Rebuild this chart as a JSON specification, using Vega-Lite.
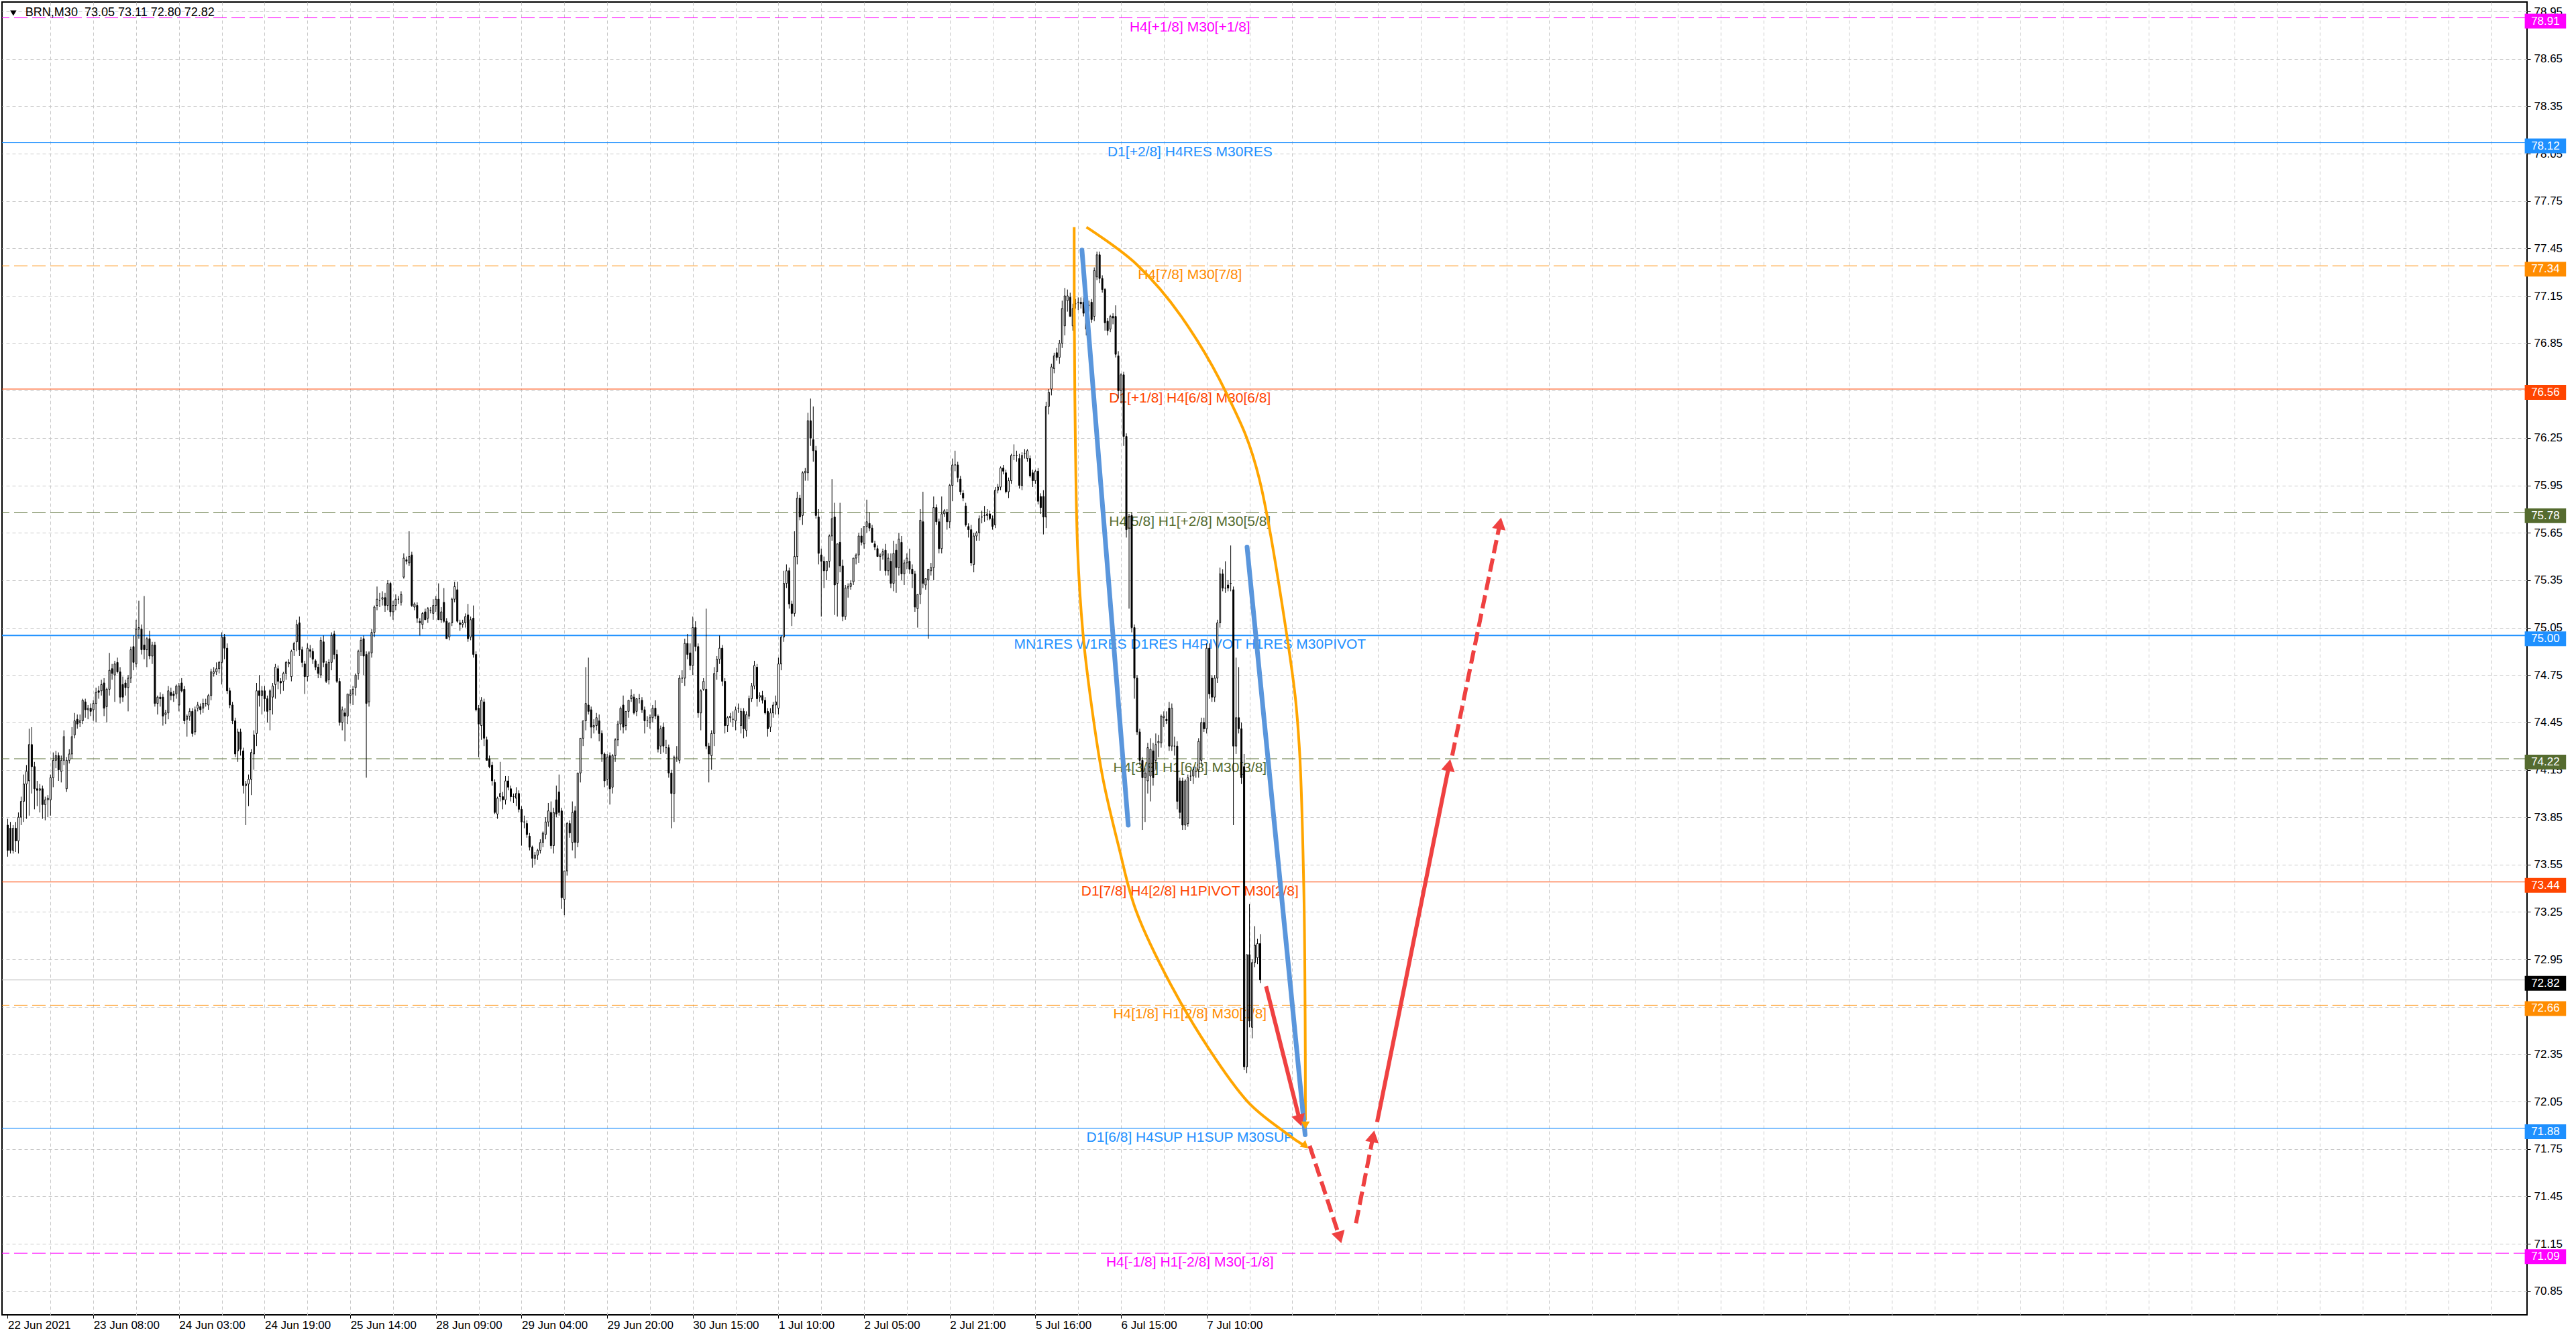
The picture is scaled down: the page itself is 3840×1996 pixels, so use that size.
{
  "$schema": "https://vega.github.io/schema/vega-lite/v6.json",
  "width": 3764,
  "height": 1957,
  "autosize": {"type": "none"},
  "padding": {"left": 3, "top": 3, "right": 73, "bottom": 36},
  "background": "#FFFFFF",
  "config": {
    "view": {"stroke": "#000000", "strokeWidth": 2},
    "font": "Liberation Sans",
    "axis": {"labelFont": "Liberation Sans"}
  },
  "layer": [
    {
      "data": {
        "values": [
          {"p": 78.91, "grp": "outer", "lab": "H4[+1/8] M30[+1/8]"},
          {"p": 78.12, "grp": "major", "lab": "D1[+2/8] H4RES M30RES"},
          {"p": 77.34, "grp": "weak", "lab": "H4[7/8] M30[7/8]"},
          {"p": 76.56, "grp": "pivot", "lab": "D1[+1/8] H4[6/8] M30[6/8]"},
          {"p": 75.78, "grp": "mid", "lab": "H4[5/8] H1[+2/8] M30[5/8]"},
          {"p": 75.00, "grp": "major", "lab": "MN1RES W1RES D1RES H4PIVOT H1RES M30PIVOT"},
          {"p": 74.22, "grp": "mid", "lab": "H4[3/8] H1[6/8] M30[3/8]"},
          {"p": 73.44, "grp": "pivot", "lab": "D1[7/8] H4[2/8] H1PIVOT M30[2/8]"},
          {"p": 72.82, "grp": "bid", "lab": ""},
          {"p": 72.66, "grp": "weak", "lab": "H4[1/8] H1[2/8] M30[1/8]"},
          {"p": 71.88, "grp": "major", "lab": "D1[6/8] H4SUP H1SUP M30SUP"},
          {"p": 71.09, "grp": "outer", "lab": "H4[-1/8] H1[-2/8] M30[-1/8]"}
        ]
      },
      "layer": [
        {
          "mark": {"type": "rule"},
          "encoding": {
            "y": {
              "field": "p", "type": "quantitative",
              "scale": {"domain": [70.70, 79.01], "nice": false, "zero": false},
              "axis": {"title": null, "orient": "right", "values": [70.85, 71.15, 71.45, 71.75, 72.05, 72.35, 72.65, 72.95, 73.25, 73.55, 73.85, 74.15, 74.45, 74.75, 75.05, 75.35, 75.65, 75.95, 76.25, 76.55, 76.85, 77.15, 77.45, 77.75, 78.05, 78.35, 78.65, 78.95], "format": ".2f", "labelFontSize": 17, "labelColor": "#000000", "labelPadding": 5, "labelAlign": "left", "labelBaseline": "middle", "labelOverlap": false, "labelBound": false, "labelFlush": false, "domain": false, "tickSize": 5, "tickColor": "#000000", "grid": true, "gridColor": "#C8C8C8", "gridDash": [5, 4]}
            },
            "stroke": {
              "field": "grp", "type": "nominal", "legend": null,
              "scale": {"domain": ["outer", "major", "weak", "pivot", "mid", "bid"], "range": ["#FF00FF", "#1E90FF", "#FF8C00", "#FF4500", "#556B2F", "#C0C0C0"]}
            },
            "strokeDash": {
              "field": "grp", "type": "nominal", "legend": null,
              "scale": {"domain": ["outer", "major", "weak", "pivot", "mid", "bid"], "range": [[20, 7], [1, 0], [20, 7], [1, 0], [20, 7], [1, 0]]}
            },
            "strokeWidth": {"condition": {"test": "datum.p === 75", "value": 2}, "value": 1}
          }
        },
        {
          "transform": [{"filter": "datum.lab !== ''"}],
          "mark": {"type": "text", "align": "center", "baseline": "top", "dy": 3, "fontSize": 21},
          "encoding": {
            "x": {
              "datum": 441.75, "type": "quantitative",
              "scale": {"domain": [-0.875, 940.125], "nice": false, "zero": false},
              "axis": {"title": null, "orient": "bottom", "values": [0, 16, 32, 48, 64, 80, 96, 112, 128, 144, 160, 176, 192, 208, 224, 240, 256, 272, 288, 304, 320, 336, 352, 368, 384, 400, 416, 432, 448, 464, 480, 496, 512, 528, 544, 560, 576, 592, 608, 624, 640, 656, 672, 688, 704, 720, 736, 752, 768, 784, 800, 816, 832, 848, 864, 880, 896, 912, 928], "labelExpr": "datum.value % 32 === 0 && datum.value <= 448 ? ['22 Jun 2021','23 Jun 08:00','24 Jun 03:00','24 Jun 19:00','25 Jun 14:00','28 Jun 09:00','29 Jun 04:00','29 Jun 20:00','30 Jun 15:00','1 Jul 10:00','2 Jul 05:00','2 Jul 21:00','5 Jul 16:00','6 Jul 15:00','7 Jul 10:00'][datum.value / 32] : ''", "labelAlign": "left", "labelBaseline": "top", "labelFontSize": 17, "labelColor": "#000000", "labelPadding": 2, "labelFlush": false, "labelOverlap": false, "labelBound": false, "domain": false, "tickSize": 5, "tickColor": "#000000", "tickOpacity": {"condition": {"test": "datum.value % 32 === 0 && datum.value <= 448", "value": 1}, "value": 0}, "grid": true, "gridColor": "#C8C8C8", "gridDash": [5, 4], "gridOpacity": {"condition": {"test": "datum.value === 0", "value": 0}, "value": 1}}
            },
            "y": {
              "field": "p", "type": "quantitative",
              "scale": {"domain": [70.70, 79.01], "nice": false, "zero": false},
              "axis": {"title": null, "orient": "right", "values": [70.85, 71.15, 71.45, 71.75, 72.05, 72.35, 72.65, 72.95, 73.25, 73.55, 73.85, 74.15, 74.45, 74.75, 75.05, 75.35, 75.65, 75.95, 76.25, 76.55, 76.85, 77.15, 77.45, 77.75, 78.05, 78.35, 78.65, 78.95], "format": ".2f", "labelFontSize": 17, "labelColor": "#000000", "labelPadding": 5, "labelAlign": "left", "labelBaseline": "middle", "labelOverlap": false, "labelBound": false, "labelFlush": false, "domain": false, "tickSize": 5, "tickColor": "#000000", "grid": true, "gridColor": "#C8C8C8", "gridDash": [5, 4]}
            },
            "text": {"field": "lab"},
            "fill": {
              "field": "grp", "type": "nominal", "legend": null,
              "scale": {"domain": ["outer", "major", "weak", "pivot", "mid", "bid"], "range": ["#FF00FF", "#1E90FF", "#FF8C00", "#FF4500", "#556B2F", "#000000"]}
            }
          }
        },
        {
          "mark": {"type": "point", "shape": "M-2.8,-1H2.8V1H-2.8Z", "size": 484, "filled": true, "opacity": 1, "strokeWidth": 0, "yOffset": 5},
          "encoding": {
            "x": {
              "datum": 948.25, "type": "quantitative",
              "scale": {"domain": [-0.875, 940.125], "nice": false, "zero": false},
              "axis": {"title": null, "orient": "bottom", "values": [0, 16, 32, 48, 64, 80, 96, 112, 128, 144, 160, 176, 192, 208, 224, 240, 256, 272, 288, 304, 320, 336, 352, 368, 384, 400, 416, 432, 448, 464, 480, 496, 512, 528, 544, 560, 576, 592, 608, 624, 640, 656, 672, 688, 704, 720, 736, 752, 768, 784, 800, 816, 832, 848, 864, 880, 896, 912, 928], "labelExpr": "datum.value % 32 === 0 && datum.value <= 448 ? ['22 Jun 2021','23 Jun 08:00','24 Jun 03:00','24 Jun 19:00','25 Jun 14:00','28 Jun 09:00','29 Jun 04:00','29 Jun 20:00','30 Jun 15:00','1 Jul 10:00','2 Jul 05:00','2 Jul 21:00','5 Jul 16:00','6 Jul 15:00','7 Jul 10:00'][datum.value / 32] : ''", "labelAlign": "left", "labelBaseline": "top", "labelFontSize": 17, "labelColor": "#000000", "labelPadding": 2, "labelFlush": false, "labelOverlap": false, "labelBound": false, "domain": false, "tickSize": 5, "tickColor": "#000000", "tickOpacity": {"condition": {"test": "datum.value % 32 === 0 && datum.value <= 448", "value": 1}, "value": 0}, "grid": true, "gridColor": "#C8C8C8", "gridDash": [5, 4], "gridOpacity": {"condition": {"test": "datum.value === 0", "value": 0}, "value": 1}}
            },
            "y": {
              "field": "p", "type": "quantitative",
              "scale": {"domain": [70.70, 79.01], "nice": false, "zero": false},
              "axis": {"title": null, "orient": "right", "values": [70.85, 71.15, 71.45, 71.75, 72.05, 72.35, 72.65, 72.95, 73.25, 73.55, 73.85, 74.15, 74.45, 74.75, 75.05, 75.35, 75.65, 75.95, 76.25, 76.55, 76.85, 77.15, 77.45, 77.75, 78.05, 78.35, 78.65, 78.95], "format": ".2f", "labelFontSize": 17, "labelColor": "#000000", "labelPadding": 5, "labelAlign": "left", "labelBaseline": "middle", "labelOverlap": false, "labelBound": false, "labelFlush": false, "domain": false, "tickSize": 5, "tickColor": "#000000", "grid": true, "gridColor": "#C8C8C8", "gridDash": [5, 4]}
            },
            "fill": {
              "field": "grp", "type": "nominal", "legend": null,
              "scale": {"domain": ["outer", "major", "weak", "pivot", "mid", "bid"], "range": ["#FF00FF", "#1E90FF", "#FF8C00", "#FF4500", "#556B2F", "#000000"]}
            }
          }
        },
        {
          "mark": {"type": "text", "align": "center", "baseline": "middle", "fontSize": 17, "color": "#FFFFFF", "yOffset": 5},
          "encoding": {
            "x": {
              "datum": 948.25, "type": "quantitative",
              "scale": {"domain": [-0.875, 940.125], "nice": false, "zero": false},
              "axis": {"title": null, "orient": "bottom", "values": [0, 16, 32, 48, 64, 80, 96, 112, 128, 144, 160, 176, 192, 208, 224, 240, 256, 272, 288, 304, 320, 336, 352, 368, 384, 400, 416, 432, 448, 464, 480, 496, 512, 528, 544, 560, 576, 592, 608, 624, 640, 656, 672, 688, 704, 720, 736, 752, 768, 784, 800, 816, 832, 848, 864, 880, 896, 912, 928], "labelExpr": "datum.value % 32 === 0 && datum.value <= 448 ? ['22 Jun 2021','23 Jun 08:00','24 Jun 03:00','24 Jun 19:00','25 Jun 14:00','28 Jun 09:00','29 Jun 04:00','29 Jun 20:00','30 Jun 15:00','1 Jul 10:00','2 Jul 05:00','2 Jul 21:00','5 Jul 16:00','6 Jul 15:00','7 Jul 10:00'][datum.value / 32] : ''", "labelAlign": "left", "labelBaseline": "top", "labelFontSize": 17, "labelColor": "#000000", "labelPadding": 2, "labelFlush": false, "labelOverlap": false, "labelBound": false, "domain": false, "tickSize": 5, "tickColor": "#000000", "tickOpacity": {"condition": {"test": "datum.value % 32 === 0 && datum.value <= 448", "value": 1}, "value": 0}, "grid": true, "gridColor": "#C8C8C8", "gridDash": [5, 4], "gridOpacity": {"condition": {"test": "datum.value === 0", "value": 0}, "value": 1}}
            },
            "y": {
              "field": "p", "type": "quantitative",
              "scale": {"domain": [70.70, 79.01], "nice": false, "zero": false},
              "axis": {"title": null, "orient": "right", "values": [70.85, 71.15, 71.45, 71.75, 72.05, 72.35, 72.65, 72.95, 73.25, 73.55, 73.85, 74.15, 74.45, 74.75, 75.05, 75.35, 75.65, 75.95, 76.25, 76.55, 76.85, 77.15, 77.45, 77.75, 78.05, 78.35, 78.65, 78.95], "format": ".2f", "labelFontSize": 17, "labelColor": "#000000", "labelPadding": 5, "labelAlign": "left", "labelBaseline": "middle", "labelOverlap": false, "labelBound": false, "labelFlush": false, "domain": false, "tickSize": 5, "tickColor": "#000000", "grid": true, "gridColor": "#C8C8C8", "gridDash": [5, 4]}
            },
            "text": {"field": "p", "type": "quantitative", "format": ".2f"}
          }
        }
      ]
    },
    {
      "data": {
        "values": "i,o,h,l,c\n0,73.80,73.84,73.60,73.64\n1,73.78,73.82,73.62,73.64\n2,73.64,73.80,73.62,73.78\n3,73.78,73.82,73.63,73.70\n4,73.70,73.88,73.62,73.85\n5,73.85,73.98,73.80,73.95\n6,73.95,74.12,73.82,74.06\n7,74.06,74.18,73.84,74.14\n8,74.08,74.41,73.86,74.31\n9,74.31,74.42,74.00,74.17\n10,74.17,74.20,73.90,74.03\n11,74.03,74.08,73.92,74.02\n12,74.02,74.06,73.88,74.03\n13,74.03,74.05,73.84,73.93\n14,73.93,73.98,73.83,73.96\n15,73.96,73.99,73.85,73.97\n16,73.96,74.12,73.86,74.10\n17,74.10,74.26,74.04,74.21\n18,74.21,74.27,74.16,74.24\n19,74.24,74.26,74.08,74.15\n20,74.14,74.24,74.07,74.21\n21,74.21,74.40,74.18,74.36\n22,74.03,74.23,74.01,74.21\n23,74.21,74.28,74.19,74.25\n24,74.25,74.42,74.22,74.36\n25,74.37,74.51,74.35,74.46\n26,74.47,74.50,74.41,74.44\n27,74.45,74.50,74.42,74.46\n28,74.46,74.60,74.44,74.59\n29,74.58,74.60,74.48,74.53\n30,74.53,74.56,74.47,74.54\n31,74.54,74.57,74.49,74.52\n32,74.53,74.59,74.46,74.57\n33,74.57,74.67,74.45,74.64\n34,74.65,74.68,74.60,74.64\n35,74.65,74.72,74.62,74.69\n36,74.70,74.73,74.49,74.54\n37,74.55,74.67,74.45,74.66\n38,74.66,74.89,74.62,74.78\n39,74.79,74.82,74.72,74.76\n40,74.75,74.84,74.58,74.82\n41,74.83,74.86,74.76,74.77\n42,74.77,74.80,74.57,74.61\n43,74.69,74.74,74.58,74.61\n44,74.70,74.72,74.62,74.67\n45,74.67,74.75,74.52,74.73\n46,74.73,74.93,74.70,74.91\n47,74.93,75.00,74.78,74.83\n48,74.82,75.10,74.80,75.04\n49,75.04,75.22,74.98,75.05\n50,75.04,75.07,74.88,74.91\n51,74.94,75.25,74.85,74.91\n52,74.91,74.99,74.80,74.98\n53,74.98,75.03,74.85,74.87\n54,74.87,74.96,74.82,74.94\n55,74.94,74.96,74.55,74.57\n56,74.57,74.62,74.50,74.61\n57,74.61,74.64,74.55,74.60\n58,74.61,74.63,74.43,74.49\n59,74.50,74.53,74.44,74.51\n60,74.51,74.68,74.47,74.65\n61,74.64,74.67,74.59,74.62\n62,74.63,74.65,74.58,74.62\n63,74.63,74.69,74.60,74.68\n64,74.56,74.70,74.52,74.68\n65,74.70,74.73,74.64,74.65\n66,74.66,74.68,74.44,74.46\n67,74.47,74.50,74.36,74.49\n68,74.49,74.54,74.46,74.52\n69,74.52,74.54,74.36,74.38\n70,74.39,74.55,74.37,74.53\n71,74.54,74.58,74.52,74.56\n72,74.55,74.57,74.50,74.53\n73,74.54,74.60,74.51,74.57\n74,74.57,74.60,74.55,74.57\n75,74.56,74.63,74.53,74.62\n76,74.62,74.79,74.59,74.77\n77,74.76,74.80,74.74,74.77\n78,74.77,74.83,74.75,74.79\n79,74.79,74.84,74.76,74.83\n80,74.83,75.02,74.69,74.99\n81,74.99,75.01,74.85,74.92\n82,74.92,74.95,74.63,74.65\n83,74.65,74.67,74.54,74.56\n84,74.56,74.58,74.44,74.46\n85,74.46,74.48,74.23,74.25\n86,74.27,74.41,74.20,74.39\n87,74.39,74.41,74.24,74.28\n88,74.27,74.29,74.00,74.05\n89,74.05,74.08,73.80,74.06\n90,74.06,74.12,73.92,74.09\n91,74.09,74.28,73.99,74.26\n92,74.25,74.40,74.15,74.37\n93,74.38,74.70,74.30,74.65\n94,74.65,74.75,74.55,74.62\n95,74.62,74.68,74.50,74.65\n96,74.65,74.68,74.52,74.60\n97,74.60,74.62,74.45,74.52\n98,74.53,74.66,74.40,74.65\n99,74.61,74.70,74.50,74.68\n100,74.69,74.82,74.60,74.80\n101,74.79,74.81,74.66,74.71\n102,74.71,74.73,74.63,74.70\n103,74.71,74.77,74.65,74.76\n104,74.76,74.84,74.72,74.83\n105,74.82,74.85,74.80,74.83\n106,74.74,74.91,74.71,74.90\n107,74.91,74.96,74.87,74.95\n108,74.96,75.10,74.90,75.07\n109,75.08,75.12,74.87,74.91\n110,74.91,74.93,74.80,74.83\n111,74.82,74.84,74.63,74.74\n112,74.74,74.95,74.71,74.92\n113,74.91,74.94,74.86,74.90\n114,74.90,74.92,74.82,74.85\n115,74.84,74.85,74.78,74.80\n116,74.80,74.82,74.73,74.76\n117,74.75,74.99,74.73,74.97\n118,74.96,75.00,74.80,74.83\n119,74.82,74.84,74.70,74.71\n120,74.72,74.85,74.69,74.83\n121,74.83,75.02,74.78,75.00\n122,75.01,75.03,74.85,74.88\n123,74.88,74.91,74.70,74.71\n124,74.71,74.73,74.43,74.45\n125,74.45,74.55,74.40,74.53\n126,74.51,74.54,74.33,74.49\n127,74.49,74.63,74.44,74.63\n128,74.62,74.66,74.57,74.63\n129,74.63,74.68,74.56,74.66\n130,74.67,74.76,74.62,74.75\n131,74.76,74.91,74.72,74.90\n132,74.90,74.99,74.87,74.97\n133,74.98,75.00,74.75,74.87\n134,74.88,74.90,74.10,74.57\n135,74.58,74.90,74.55,74.89\n136,74.89,75.04,74.86,75.02\n137,75.02,75.19,74.99,75.18\n138,75.19,75.31,75.16,75.23\n139,75.22,75.27,75.18,75.22\n140,75.23,75.28,75.19,75.24\n141,75.24,75.27,75.15,75.19\n142,75.19,75.35,75.16,75.33\n143,75.33,75.34,75.12,75.15\n144,75.15,75.22,75.10,75.19\n145,75.19,75.26,75.16,75.23\n146,75.23,75.25,75.20,75.23\n147,75.21,75.28,75.19,75.26\n148,75.37,75.52,75.36,75.49\n149,75.48,75.50,75.45,75.47\n150,75.46,75.66,75.44,75.50\n151,75.51,75.53,75.18,75.19\n152,75.18,75.21,75.16,75.20\n153,75.19,75.21,75.08,75.11\n154,75.09,75.11,75.00,75.08\n155,75.07,75.15,75.04,75.14\n156,75.15,75.17,75.10,75.10\n157,75.11,75.18,75.08,75.17\n158,75.16,75.18,75.14,75.16\n159,75.14,75.23,75.10,75.19\n160,75.19,75.25,75.15,75.23\n161,75.23,75.33,75.10,75.10\n162,75.10,75.18,75.08,75.15\n163,75.21,75.30,75.08,75.09\n164,75.09,75.11,74.98,74.98\n165,74.99,75.08,74.97,75.08\n166,75.08,75.24,75.06,75.23\n167,75.23,75.34,75.21,75.31\n168,75.29,75.34,75.08,75.09\n169,75.08,75.10,75.03,75.07\n170,75.07,75.10,75.05,75.08\n171,75.08,75.14,75.05,75.12\n172,75.13,75.20,74.96,74.98\n173,74.99,75.12,74.97,75.10\n174,75.11,75.19,74.86,74.88\n175,74.88,74.90,74.52,74.53\n176,74.54,74.56,74.23,74.44\n177,74.43,74.61,74.34,74.59\n178,74.58,74.60,74.30,74.35\n179,74.34,74.36,74.21,74.21\n180,74.22,74.24,74.16,74.17\n181,74.18,74.20,74.05,74.08\n182,74.07,74.09,73.87,73.88\n183,73.87,73.98,73.84,73.97\n184,73.98,74.20,73.95,74.00\n185,73.98,74.01,73.90,73.96\n186,73.96,74.11,73.93,74.08\n187,74.08,74.11,74.02,74.04\n188,74.03,74.05,73.95,73.98\n189,73.98,74.00,73.94,73.98\n190,73.97,74.04,73.92,74.00\n191,74.00,74.02,73.88,73.90\n192,73.90,73.92,73.67,73.82\n193,73.82,73.86,73.78,73.82\n194,73.81,73.83,73.72,73.74\n195,73.73,73.75,73.64,73.66\n196,73.66,73.67,73.53,73.59\n197,73.59,73.63,73.55,73.61\n198,73.61,73.65,73.58,73.64\n199,73.64,73.71,73.62,73.69\n200,73.69,73.76,73.66,73.75\n201,73.74,73.85,73.71,73.82\n202,73.82,73.94,73.79,73.89\n203,73.88,73.95,73.65,73.67\n204,73.67,73.91,73.62,73.88\n205,73.96,74.05,73.85,73.87\n206,74.01,74.12,73.86,73.88\n207,73.89,73.91,73.27,73.34\n208,73.33,73.51,73.23,73.51\n209,73.51,73.82,73.48,73.81\n210,73.81,73.83,73.72,73.75\n211,73.69,73.95,73.64,73.88\n212,73.89,73.92,73.59,73.69\n213,73.69,74.13,73.66,74.13\n214,74.13,74.35,74.07,74.35\n215,74.35,74.46,74.30,74.46\n216,74.46,74.80,74.40,74.57\n217,74.56,74.86,74.50,74.52\n218,74.53,74.55,74.35,74.42\n219,74.42,74.47,74.38,74.43\n220,74.43,74.51,74.40,74.48\n221,74.46,74.50,74.33,74.38\n222,74.38,74.40,74.20,74.25\n223,74.25,74.26,74.04,74.08\n224,74.09,74.25,74.05,74.23\n225,74.24,74.26,73.93,74.03\n226,74.04,74.25,74.00,74.24\n227,74.24,74.35,74.20,74.34\n228,74.34,74.46,74.30,74.44\n229,74.44,74.55,74.40,74.54\n230,74.56,74.62,74.38,74.42\n231,74.43,74.52,74.40,74.52\n232,74.52,74.59,74.48,74.59\n233,74.60,74.66,74.58,74.62\n234,74.61,74.63,74.50,74.51\n235,74.52,74.60,74.49,74.60\n236,74.60,74.63,74.57,74.60\n237,74.59,74.61,74.51,74.53\n238,74.53,74.55,74.38,74.46\n239,74.46,74.49,74.42,74.46\n240,74.45,74.50,74.41,74.48\n241,74.48,74.56,74.45,74.54\n242,74.54,74.59,74.47,74.49\n243,74.49,74.50,74.26,74.28\n244,74.30,74.43,74.25,74.41\n245,74.42,74.45,74.26,74.30\n246,74.29,74.34,74.25,74.29\n247,74.29,74.31,74.10,74.13\n248,74.13,74.15,73.78,74.00\n249,74.00,74.24,73.82,74.23\n250,74.23,74.30,74.20,74.23\n251,74.21,74.75,74.19,74.73\n252,74.73,74.78,74.70,74.73\n253,74.73,74.98,74.68,74.95\n254,74.95,75.01,74.85,74.88\n255,74.89,74.95,74.78,74.81\n256,74.81,75.12,74.75,75.05\n257,75.05,75.09,74.90,74.93\n258,74.93,74.95,74.48,74.51\n259,74.51,74.66,74.40,74.65\n260,74.66,74.73,74.65,74.71\n261,74.66,75.17,74.28,74.30\n262,74.30,74.32,74.07,74.25\n263,74.24,74.40,74.15,74.38\n264,74.38,74.80,74.30,74.76\n265,74.77,74.87,74.72,74.85\n266,74.85,75.00,74.82,74.92\n267,74.92,74.94,74.68,74.71\n268,74.71,74.73,74.38,74.43\n269,74.43,74.49,74.39,74.48\n270,74.48,74.51,74.45,74.49\n271,74.47,74.52,74.42,74.47\n272,74.46,74.55,74.40,74.53\n273,74.54,74.57,74.51,74.54\n274,74.43,74.54,74.38,74.52\n275,74.52,74.54,74.35,74.41\n276,74.40,74.52,74.36,74.50\n277,74.49,74.62,74.47,74.60\n278,74.60,74.70,74.58,74.68\n279,74.68,74.84,74.66,74.81\n280,74.80,74.82,74.55,74.60\n281,74.61,74.64,74.58,74.62\n282,74.62,74.65,74.57,74.59\n283,74.59,74.61,74.50,74.51\n284,74.52,74.54,74.36,74.41\n285,74.42,74.54,74.39,74.51\n286,74.51,74.58,74.48,74.56\n287,74.56,74.62,74.50,74.58\n288,74.54,74.86,74.50,74.82\n289,74.82,75.00,74.78,74.99\n290,74.99,75.41,74.96,75.33\n291,75.33,75.45,75.30,75.41\n292,75.41,75.43,75.17,75.20\n293,75.20,75.22,75.06,75.14\n294,75.14,75.66,75.12,75.50\n295,75.50,75.91,75.45,75.87\n296,75.87,75.89,75.73,75.75\n297,75.76,76.04,75.70,76.03\n298,76.03,76.06,75.98,76.04\n299,76.03,76.41,75.98,76.36\n300,76.36,76.50,76.20,76.25\n301,76.24,76.45,76.10,76.17\n302,76.17,76.20,75.74,75.76\n303,75.75,75.80,75.45,75.52\n304,75.51,75.55,75.12,75.47\n305,75.47,75.50,75.30,75.41\n306,75.41,75.47,75.35,75.47\n307,75.47,75.64,75.43,75.63\n308,75.63,75.99,75.60,75.74\n309,75.75,75.84,75.13,75.32\n310,75.33,75.58,75.12,75.58\n311,75.59,75.84,75.40,75.44\n312,75.44,75.48,75.09,75.12\n313,75.12,75.32,75.10,75.30\n314,75.30,75.33,75.24,75.31\n315,75.31,75.35,75.29,75.33\n316,75.34,75.49,75.32,75.49\n317,75.49,75.52,75.45,75.51\n318,75.51,75.65,75.46,75.63\n319,75.63,75.68,75.57,75.59\n320,75.58,75.69,75.55,75.69\n321,75.69,75.86,75.65,75.72\n322,75.71,75.78,75.66,75.68\n323,75.68,75.70,75.59,75.59\n324,75.58,75.60,75.54,75.56\n325,75.55,75.57,75.50,75.50\n326,75.50,75.52,75.41,75.51\n327,75.51,75.55,75.48,75.53\n328,75.54,75.58,75.38,75.41\n329,75.41,75.52,75.38,75.49\n330,75.47,75.52,75.30,75.33\n331,75.33,75.60,75.28,75.52\n332,75.54,75.58,75.27,75.43\n333,75.43,75.65,75.38,75.61\n334,75.59,75.63,75.35,75.39\n335,75.39,75.48,75.32,75.46\n336,75.46,75.52,75.42,75.49\n337,75.47,75.55,75.39,75.42\n338,75.42,75.45,75.30,75.39\n339,75.39,75.41,75.15,75.18\n340,75.17,75.26,75.05,75.26\n341,75.26,75.80,75.20,75.73\n342,75.72,75.91,75.30,75.33\n343,75.32,75.36,75.29,75.36\n344,75.35,75.42,74.98,75.42\n345,75.41,75.46,75.38,75.43\n346,75.43,75.88,75.35,75.81\n347,75.81,75.83,75.70,75.72\n348,75.72,75.74,75.52,75.55\n349,75.55,75.88,75.52,75.77\n350,75.77,75.80,75.75,75.79\n351,75.78,75.80,75.67,75.72\n352,75.72,75.96,75.68,75.95\n353,75.95,76.12,75.85,76.08\n354,76.08,76.17,76.04,76.08\n355,76.08,76.10,75.97,76.00\n356,75.99,76.01,75.89,75.91\n357,75.90,75.92,75.85,75.87\n358,75.82,75.84,75.69,75.70\n359,75.69,75.71,75.62,75.67\n360,75.67,75.70,75.44,75.46\n361,75.45,75.65,75.40,75.63\n362,75.63,75.66,75.60,75.65\n363,75.65,75.76,75.60,75.74\n364,75.75,75.79,75.71,75.75\n365,75.76,75.82,75.72,75.76\n366,75.76,75.80,75.73,75.77\n367,75.77,75.79,75.73,75.74\n368,75.74,75.76,75.67,75.69\n369,75.70,75.94,75.68,75.92\n370,75.92,75.96,75.90,75.94\n371,75.94,76.07,75.92,76.06\n372,76.06,76.08,76.02,76.04\n373,76.03,76.05,75.90,75.91\n374,75.91,76.00,75.87,75.98\n375,75.98,76.15,75.96,76.14\n376,76.14,76.21,76.11,76.14\n377,76.14,76.17,76.10,76.14\n378,76.12,76.15,75.93,75.95\n379,75.95,76.16,75.92,76.14\n380,76.15,76.18,76.12,76.15\n381,76.12,76.18,76.10,76.17\n382,76.12,76.14,76.00,76.01\n383,76.03,76.05,75.94,75.98\n384,75.98,76.05,75.96,76.04\n385,76.04,76.06,75.83,75.85\n386,75.88,75.90,75.77,75.81\n387,75.88,75.92,75.64,75.75\n388,75.75,76.48,75.68,76.45\n389,76.45,76.56,76.40,76.54\n390,76.56,76.72,76.52,76.70\n391,76.69,76.79,76.66,76.77\n392,76.79,76.82,76.74,76.76\n393,76.76,76.87,76.72,76.85\n394,76.85,77.12,76.82,77.07\n395,76.96,77.20,76.90,77.15\n396,77.12,77.19,77.05,77.15\n397,77.14,77.17,77.02,77.02\n398,76.96,77.10,76.93,77.07\n399,77.10,77.13,77.07,77.10\n400,77.11,77.14,77.06,77.11\n401,77.11,77.14,77.07,77.10\n402,77.11,77.14,77.02,77.04\n403,77.11,77.13,76.90,76.94\n404,77.09,77.12,77.05,77.09\n405,77.11,77.13,76.98,77.00\n406,77.02,77.33,76.99,77.31\n407,77.27,77.43,77.25,77.41\n408,77.41,77.43,77.23,77.26\n409,77.26,77.28,77.17,77.19\n410,77.19,77.20,76.93,76.98\n411,76.99,77.01,76.90,76.93\n412,76.94,77.03,76.92,77.02\n413,77.02,77.04,76.97,77.01\n414,77.02,77.09,76.76,76.78\n415,76.77,76.80,76.50,76.55\n416,76.55,76.66,76.47,76.65\n417,76.65,76.67,76.20,76.26\n418,76.26,76.28,75.62,75.67\n419,75.68,75.77,75.17,75.75\n420,75.76,75.78,75.02,75.05\n421,75.05,75.07,74.60,74.73\n422,74.73,74.75,74.37,74.39\n423,74.39,74.41,74.18,74.21\n424,74.21,74.23,73.77,74.10\n425,74.10,74.16,73.82,74.13\n426,74.08,74.32,74.00,74.29\n427,74.11,74.35,73.95,74.28\n428,74.27,74.32,74.05,74.10\n429,74.21,74.38,74.15,74.31\n430,74.32,74.37,74.23,74.33\n431,74.32,74.50,74.29,74.49\n432,74.48,74.52,74.42,74.49\n433,74.47,74.52,74.44,74.46\n434,74.54,74.58,74.27,74.30\n435,74.30,74.57,74.27,74.54\n436,74.30,74.36,74.24,74.30\n437,74.30,74.33,73.90,73.95\n438,74.08,74.10,73.84,73.88\n439,74.08,74.10,73.77,73.80\n440,73.80,74.09,73.77,74.08\n441,73.81,74.12,73.79,74.10\n442,74.11,74.14,74.08,74.11\n443,74.11,74.17,74.06,74.15\n444,74.14,74.17,74.10,74.14\n445,74.15,74.35,74.10,74.33\n446,74.21,74.48,74.18,74.45\n447,74.45,74.48,74.39,74.41\n448,74.41,74.95,74.38,74.92\n449,74.92,74.95,74.60,74.63\n450,74.73,74.75,74.58,74.61\n451,74.61,74.75,74.58,74.73\n452,74.73,75.10,74.70,75.08\n453,75.08,75.43,75.05,75.39\n454,75.39,75.42,75.28,75.30\n455,75.30,75.47,75.27,75.30\n456,75.32,75.35,75.28,75.30\n457,75.33,75.57,75.28,75.33\n458,75.29,75.31,73.80,74.30\n459,74.30,74.86,74.25,74.48\n460,74.48,74.80,74.38,74.41\n461,74.41,74.45,74.06,74.10\n462,74.17,74.25,72.25,72.27\n463,72.27,72.98,72.23,72.98\n464,72.98,73.30,72.52,72.56\n465,72.52,72.95,72.45,72.93\n466,72.93,73.16,72.90,73.04\n467,72.96,73.08,72.92,73.05\n468,73.05,73.11,72.80,72.82",
        "format": {"type": "csv", "parse": {"i": "number", "o": "number", "h": "number", "l": "number", "c": "number"}}
      },
      "layer": [
        {
          "mark": {"type": "rule", "color": "#000000", "strokeWidth": 1},
          "encoding": {
            "x": {
              "field": "i", "type": "quantitative",
              "scale": {"domain": [-0.875, 940.125], "nice": false, "zero": false},
              "axis": {"title": null, "orient": "bottom", "values": [0, 16, 32, 48, 64, 80, 96, 112, 128, 144, 160, 176, 192, 208, 224, 240, 256, 272, 288, 304, 320, 336, 352, 368, 384, 400, 416, 432, 448, 464, 480, 496, 512, 528, 544, 560, 576, 592, 608, 624, 640, 656, 672, 688, 704, 720, 736, 752, 768, 784, 800, 816, 832, 848, 864, 880, 896, 912, 928], "labelExpr": "datum.value % 32 === 0 && datum.value <= 448 ? ['22 Jun 2021','23 Jun 08:00','24 Jun 03:00','24 Jun 19:00','25 Jun 14:00','28 Jun 09:00','29 Jun 04:00','29 Jun 20:00','30 Jun 15:00','1 Jul 10:00','2 Jul 05:00','2 Jul 21:00','5 Jul 16:00','6 Jul 15:00','7 Jul 10:00'][datum.value / 32] : ''", "labelAlign": "left", "labelBaseline": "top", "labelFontSize": 17, "labelColor": "#000000", "labelPadding": 2, "labelFlush": false, "labelOverlap": false, "labelBound": false, "domain": false, "tickSize": 5, "tickColor": "#000000", "tickOpacity": {"condition": {"test": "datum.value % 32 === 0 && datum.value <= 448", "value": 1}, "value": 0}, "grid": true, "gridColor": "#C8C8C8", "gridDash": [5, 4], "gridOpacity": {"condition": {"test": "datum.value === 0", "value": 0}, "value": 1}}
            },
            "y": {
              "field": "l", "type": "quantitative",
              "scale": {"domain": [70.70, 79.01], "nice": false, "zero": false},
              "axis": {"title": null, "orient": "right", "values": [70.85, 71.15, 71.45, 71.75, 72.05, 72.35, 72.65, 72.95, 73.25, 73.55, 73.85, 74.15, 74.45, 74.75, 75.05, 75.35, 75.65, 75.95, 76.25, 76.55, 76.85, 77.15, 77.45, 77.75, 78.05, 78.35, 78.65, 78.95], "format": ".2f", "labelFontSize": 17, "labelColor": "#000000", "labelPadding": 5, "labelAlign": "left", "labelBaseline": "middle", "labelOverlap": false, "labelBound": false, "labelFlush": false, "domain": false, "tickSize": 5, "tickColor": "#000000", "grid": true, "gridColor": "#C8C8C8", "gridDash": [5, 4]}
            },
            "y2": {"field": "h"}
          }
        },
        {
          "mark": {"type": "bar", "size": 2, "stroke": "#000000", "strokeWidth": 1},
          "encoding": {
            "x": {
              "field": "i", "type": "quantitative",
              "scale": {"domain": [-0.875, 940.125], "nice": false, "zero": false},
              "axis": {"title": null, "orient": "bottom", "values": [0, 16, 32, 48, 64, 80, 96, 112, 128, 144, 160, 176, 192, 208, 224, 240, 256, 272, 288, 304, 320, 336, 352, 368, 384, 400, 416, 432, 448, 464, 480, 496, 512, 528, 544, 560, 576, 592, 608, 624, 640, 656, 672, 688, 704, 720, 736, 752, 768, 784, 800, 816, 832, 848, 864, 880, 896, 912, 928], "labelExpr": "datum.value % 32 === 0 && datum.value <= 448 ? ['22 Jun 2021','23 Jun 08:00','24 Jun 03:00','24 Jun 19:00','25 Jun 14:00','28 Jun 09:00','29 Jun 04:00','29 Jun 20:00','30 Jun 15:00','1 Jul 10:00','2 Jul 05:00','2 Jul 21:00','5 Jul 16:00','6 Jul 15:00','7 Jul 10:00'][datum.value / 32] : ''", "labelAlign": "left", "labelBaseline": "top", "labelFontSize": 17, "labelColor": "#000000", "labelPadding": 2, "labelFlush": false, "labelOverlap": false, "labelBound": false, "domain": false, "tickSize": 5, "tickColor": "#000000", "tickOpacity": {"condition": {"test": "datum.value % 32 === 0 && datum.value <= 448", "value": 1}, "value": 0}, "grid": true, "gridColor": "#C8C8C8", "gridDash": [5, 4], "gridOpacity": {"condition": {"test": "datum.value === 0", "value": 0}, "value": 1}}
            },
            "y": {
              "field": "o", "type": "quantitative",
              "scale": {"domain": [70.70, 79.01], "nice": false, "zero": false},
              "axis": {"title": null, "orient": "right", "values": [70.85, 71.15, 71.45, 71.75, 72.05, 72.35, 72.65, 72.95, 73.25, 73.55, 73.85, 74.15, 74.45, 74.75, 75.05, 75.35, 75.65, 75.95, 76.25, 76.55, 76.85, 77.15, 77.45, 77.75, 78.05, 78.35, 78.65, 78.95], "format": ".2f", "labelFontSize": 17, "labelColor": "#000000", "labelPadding": 5, "labelAlign": "left", "labelBaseline": "middle", "labelOverlap": false, "labelBound": false, "labelFlush": false, "domain": false, "tickSize": 5, "tickColor": "#000000", "grid": true, "gridColor": "#C8C8C8", "gridDash": [5, 4]}
            },
            "y2": {"field": "c"},
            "fill": {"condition": {"test": "datum.c < datum.o", "value": "#000000"}, "value": "#FFFFFF"}
          }
        }
      ]
    },
    {
      "data": {
        "values": [
          {"a": "L", "k": 1, "x": 398.5, "y": 77.585},
          {"a": "L", "k": 2, "x": 398.55, "y": 77.02},
          {"a": "L", "k": 3, "x": 398.9, "y": 76.29},
          {"a": "L", "k": 4, "x": 399.75, "y": 75.56},
          {"a": "L", "k": 5, "x": 401.8, "y": 75.01},
          {"a": "L", "k": 6, "x": 405.2, "y": 74.53},
          {"a": "L", "k": 7, "x": 409.3, "y": 74.09},
          {"a": "L", "k": 8, "x": 415.2, "y": 73.66},
          {"a": "L", "k": 9, "x": 421.8, "y": 73.25},
          {"a": "L", "k": 10, "x": 434.6, "y": 72.79},
          {"a": "L", "k": 11, "x": 449.0, "y": 72.38},
          {"a": "L", "k": 12, "x": 463.3, "y": 72.05},
          {"a": "L", "k": 13, "x": 477.7, "y": 71.85},
          {"a": "L", "k": 14, "x": 484.6, "y": 71.77},
          {"a": "R", "k": 1, "x": 403.1, "y": 77.585},
          {"a": "R", "k": 2, "x": 421.8, "y": 77.35},
          {"a": "R", "k": 3, "x": 438.5, "y": 77.02},
          {"a": "R", "k": 4, "x": 455.2, "y": 76.54},
          {"a": "R", "k": 5, "x": 467.7, "y": 75.99},
          {"a": "R", "k": 6, "x": 478.5, "y": 74.94},
          {"a": "R", "k": 7, "x": 482.6, "y": 74.30},
          {"a": "R", "k": 8, "x": 484.3, "y": 73.40},
          {"a": "R", "k": 9, "x": 484.8, "y": 72.60},
          {"a": "R", "k": 10, "x": 484.9, "y": 71.93}
        ]
      },
      "mark": {"type": "line", "color": "#FFA500", "strokeWidth": 4, "interpolate": "cardinal"},
      "encoding": {
        "x": {
          "field": "x", "type": "quantitative",
          "scale": {"domain": [-0.875, 940.125], "nice": false, "zero": false},
          "axis": {"title": null, "orient": "bottom", "values": [0, 16, 32, 48, 64, 80, 96, 112, 128, 144, 160, 176, 192, 208, 224, 240, 256, 272, 288, 304, 320, 336, 352, 368, 384, 400, 416, 432, 448, 464, 480, 496, 512, 528, 544, 560, 576, 592, 608, 624, 640, 656, 672, 688, 704, 720, 736, 752, 768, 784, 800, 816, 832, 848, 864, 880, 896, 912, 928], "labelExpr": "datum.value % 32 === 0 && datum.value <= 448 ? ['22 Jun 2021','23 Jun 08:00','24 Jun 03:00','24 Jun 19:00','25 Jun 14:00','28 Jun 09:00','29 Jun 04:00','29 Jun 20:00','30 Jun 15:00','1 Jul 10:00','2 Jul 05:00','2 Jul 21:00','5 Jul 16:00','6 Jul 15:00','7 Jul 10:00'][datum.value / 32] : ''", "labelAlign": "left", "labelBaseline": "top", "labelFontSize": 17, "labelColor": "#000000", "labelPadding": 2, "labelFlush": false, "labelOverlap": false, "labelBound": false, "domain": false, "tickSize": 5, "tickColor": "#000000", "tickOpacity": {"condition": {"test": "datum.value % 32 === 0 && datum.value <= 448", "value": 1}, "value": 0}, "grid": true, "gridColor": "#C8C8C8", "gridDash": [5, 4], "gridOpacity": {"condition": {"test": "datum.value === 0", "value": 0}, "value": 1}}
        },
        "y": {
          "field": "y", "type": "quantitative",
          "scale": {"domain": [70.70, 79.01], "nice": false, "zero": false},
          "axis": {"title": null, "orient": "right", "values": [70.85, 71.15, 71.45, 71.75, 72.05, 72.35, 72.65, 72.95, 73.25, 73.55, 73.85, 74.15, 74.45, 74.75, 75.05, 75.35, 75.65, 75.95, 76.25, 76.55, 76.85, 77.15, 77.45, 77.75, 78.05, 78.35, 78.65, 78.95], "format": ".2f", "labelFontSize": 17, "labelColor": "#000000", "labelPadding": 5, "labelAlign": "left", "labelBaseline": "middle", "labelOverlap": false, "labelBound": false, "labelFlush": false, "domain": false, "tickSize": 5, "tickColor": "#000000", "grid": true, "gridColor": "#C8C8C8", "gridDash": [5, 4]}
        },
        "detail": {"field": "a"},
        "order": {"field": "k", "type": "quantitative"}
      }
    },
    {
      "data": {
        "values": [
          {"s": "b1", "kind": "blue", "x": 401.4, "y": 77.44, "x2": 418.7, "y2": 73.80},
          {"s": "b2", "kind": "blue", "x": 463.1, "y": 75.56, "x2": 484.8, "y2": 71.84},
          {"s": "r1", "kind": "red", "x": 470.2, "y": 72.78, "x2": 482.8, "y2": 71.93},
          {"s": "r2", "kind": "reddash", "x": 486.5, "y": 71.77, "x2": 497.7, "y2": 71.19},
          {"s": "r3", "kind": "reddash", "x": 503.8, "y": 71.28, "x2": 510.2, "y2": 71.83},
          {"s": "r4", "kind": "red", "x": 511.7, "y": 71.92, "x2": 538.6, "y2": 74.18},
          {"s": "r5", "kind": "reddash", "x": 539.75, "y": 74.24, "x2": 557.6, "y2": 75.71},
          {"s": "o1", "kind": "orangehead", "x": 484.9, "y": 71.90, "x2": 484.9, "y2": 71.90},
          {"s": "o2", "kind": "orangehead2", "x": 484.9, "y": 71.77, "x2": 484.9, "y2": 71.77},
          {"s": "h1", "kind": "headdown", "x": 482.8, "y": 71.93, "x2": 482.8, "y2": 71.93},
          {"s": "h2", "kind": "headdown", "x": 497.7, "y": 71.19, "x2": 497.7, "y2": 71.19},
          {"s": "h3", "kind": "headup", "x": 510.2, "y": 71.83, "x2": 510.2, "y2": 71.83},
          {"s": "h4", "kind": "headup", "x": 538.6, "y": 74.18, "x2": 538.6, "y2": 74.18},
          {"s": "h5", "kind": "headup", "x": 557.6, "y": 75.71, "x2": 557.6, "y2": 75.71}
        ]
      },
      "encoding": {
        "x": {
          "field": "x", "type": "quantitative",
          "scale": {"domain": [-0.875, 940.125], "nice": false, "zero": false},
          "axis": {"title": null, "orient": "bottom", "values": [0, 16, 32, 48, 64, 80, 96, 112, 128, 144, 160, 176, 192, 208, 224, 240, 256, 272, 288, 304, 320, 336, 352, 368, 384, 400, 416, 432, 448, 464, 480, 496, 512, 528, 544, 560, 576, 592, 608, 624, 640, 656, 672, 688, 704, 720, 736, 752, 768, 784, 800, 816, 832, 848, 864, 880, 896, 912, 928], "labelExpr": "datum.value % 32 === 0 && datum.value <= 448 ? ['22 Jun 2021','23 Jun 08:00','24 Jun 03:00','24 Jun 19:00','25 Jun 14:00','28 Jun 09:00','29 Jun 04:00','29 Jun 20:00','30 Jun 15:00','1 Jul 10:00','2 Jul 05:00','2 Jul 21:00','5 Jul 16:00','6 Jul 15:00','7 Jul 10:00'][datum.value / 32] : ''", "labelAlign": "left", "labelBaseline": "top", "labelFontSize": 17, "labelColor": "#000000", "labelPadding": 2, "labelFlush": false, "labelOverlap": false, "labelBound": false, "domain": false, "tickSize": 5, "tickColor": "#000000", "tickOpacity": {"condition": {"test": "datum.value % 32 === 0 && datum.value <= 448", "value": 1}, "value": 0}, "grid": true, "gridColor": "#C8C8C8", "gridDash": [5, 4], "gridOpacity": {"condition": {"test": "datum.value === 0", "value": 0}, "value": 1}}
        },
        "y": {
          "field": "y", "type": "quantitative",
          "scale": {"domain": [70.70, 79.01], "nice": false, "zero": false},
          "axis": {"title": null, "orient": "right", "values": [70.85, 71.15, 71.45, 71.75, 72.05, 72.35, 72.65, 72.95, 73.25, 73.55, 73.85, 74.15, 74.45, 74.75, 75.05, 75.35, 75.65, 75.95, 76.25, 76.55, 76.85, 77.15, 77.45, 77.75, 78.05, 78.35, 78.65, 78.95], "format": ".2f", "labelFontSize": 17, "labelColor": "#000000", "labelPadding": 5, "labelAlign": "left", "labelBaseline": "middle", "labelOverlap": false, "labelBound": false, "labelFlush": false, "domain": false, "tickSize": 5, "tickColor": "#000000", "grid": true, "gridColor": "#C8C8C8", "gridDash": [5, 4]}
        }
      },
      "layer": [
        {
          "transform": [{"filter": "datum.kind === 'blue'"}],
          "mark": {"type": "rule", "color": "#5A96DC", "strokeWidth": 7, "strokeCap": "round"},
          "encoding": {"x2": {"field": "x2"}, "y2": {"field": "y2"}}
        },
        {
          "transform": [{"filter": "datum.kind === 'red'"}],
          "mark": {"type": "rule", "color": "#EF4141", "strokeWidth": 6},
          "encoding": {"x2": {"field": "x2"}, "y2": {"field": "y2"}}
        },
        {
          "transform": [{"filter": "datum.kind === 'reddash'"}],
          "mark": {"type": "rule", "color": "#EF4141", "strokeWidth": 6, "strokeDash": [20, 8]},
          "encoding": {"x2": {"field": "x2"}, "y2": {"field": "y2"}}
        },
        {
          "transform": [{"filter": "datum.kind === 'headdown'"}],
          "mark": {"type": "point", "shape": "triangle-down", "filled": true, "color": "#EF4141", "opacity": 1, "size": 420, "angle": -16}
        },
        {
          "transform": [{"filter": "datum.kind === 'headup'"}],
          "mark": {"type": "point", "shape": "triangle-up", "filled": true, "color": "#EF4141", "opacity": 1, "size": 420, "angle": 11}
        },
        {
          "transform": [{"filter": "datum.kind === 'orangehead'"}],
          "mark": {"type": "point", "shape": "triangle-down", "filled": true, "color": "#FFA500", "opacity": 1, "size": 170, "angle": 0}
        },
        {
          "transform": [{"filter": "datum.kind === 'orangehead2'"}],
          "mark": {"type": "point", "shape": "triangle-down", "filled": true, "color": "#FFA500", "opacity": 1, "size": 170, "angle": -50}
        }
      ]
    },
    {
      "data": {"values": [{}]},
      "encoding": {
        "x": {
          "datum": 2.1, "type": "quantitative",
          "scale": {"domain": [-0.875, 940.125], "nice": false, "zero": false},
          "axis": {"title": null, "orient": "bottom", "values": [0, 16, 32, 48, 64, 80, 96, 112, 128, 144, 160, 176, 192, 208, 224, 240, 256, 272, 288, 304, 320, 336, 352, 368, 384, 400, 416, 432, 448, 464, 480, 496, 512, 528, 544, 560, 576, 592, 608, 624, 640, 656, 672, 688, 704, 720, 736, 752, 768, 784, 800, 816, 832, 848, 864, 880, 896, 912, 928], "labelExpr": "datum.value % 32 === 0 && datum.value <= 448 ? ['22 Jun 2021','23 Jun 08:00','24 Jun 03:00','24 Jun 19:00','25 Jun 14:00','28 Jun 09:00','29 Jun 04:00','29 Jun 20:00','30 Jun 15:00','1 Jul 10:00','2 Jul 05:00','2 Jul 21:00','5 Jul 16:00','6 Jul 15:00','7 Jul 10:00'][datum.value / 32] : ''", "labelAlign": "left", "labelBaseline": "top", "labelFontSize": 17, "labelColor": "#000000", "labelPadding": 2, "labelFlush": false, "labelOverlap": false, "labelBound": false, "domain": false, "tickSize": 5, "tickColor": "#000000", "tickOpacity": {"condition": {"test": "datum.value % 32 === 0 && datum.value <= 448", "value": 1}, "value": 0}, "grid": true, "gridColor": "#C8C8C8", "gridDash": [5, 4], "gridOpacity": {"condition": {"test": "datum.value === 0", "value": 0}, "value": 1}}
        },
        "y": {
          "datum": 78.94, "type": "quantitative",
          "scale": {"domain": [70.70, 79.01], "nice": false, "zero": false},
          "axis": {"title": null, "orient": "right", "values": [70.85, 71.15, 71.45, 71.75, 72.05, 72.35, 72.65, 72.95, 73.25, 73.55, 73.85, 74.15, 74.45, 74.75, 75.05, 75.35, 75.65, 75.95, 76.25, 76.55, 76.85, 77.15, 77.45, 77.75, 78.05, 78.35, 78.65, 78.95], "format": ".2f", "labelFontSize": 17, "labelColor": "#000000", "labelPadding": 5, "labelAlign": "left", "labelBaseline": "middle", "labelOverlap": false, "labelBound": false, "labelFlush": false, "domain": false, "tickSize": 5, "tickColor": "#000000", "grid": true, "gridColor": "#C8C8C8", "gridDash": [5, 4]}
        }
      },
      "layer": [
        {
          "mark": {"type": "point", "shape": "triangle-down", "filled": true, "color": "#000000", "opacity": 1, "size": 90}
        },
        {
          "mark": {"type": "text", "text": "BRN,M30\u00a0 73.05 73.11 72.80 72.82", "align": "left", "baseline": "middle", "fontSize": 18, "color": "#000000", "dx": 18}
        }
      ]
    }
  ]
}
